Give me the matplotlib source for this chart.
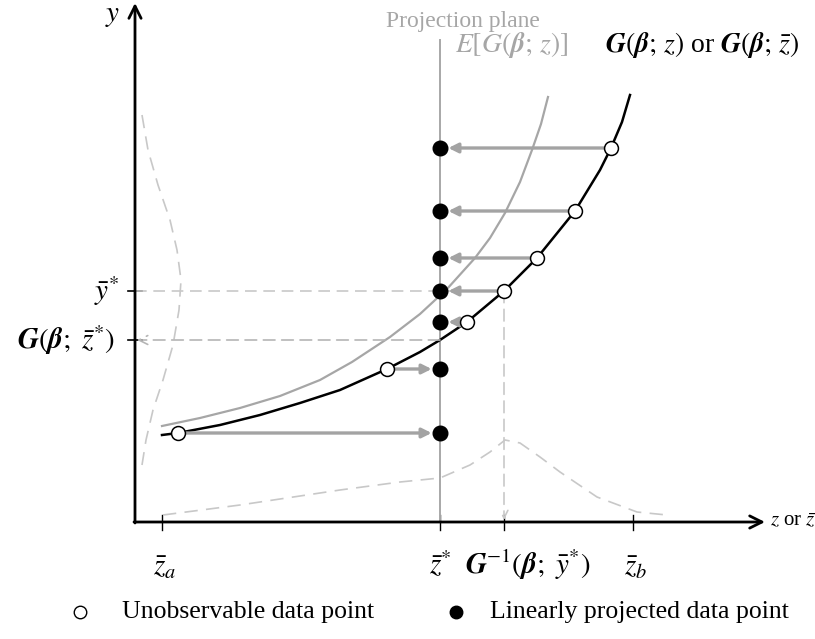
import matplotlib
matplotlib.use("Agg")
import matplotlib.pyplot as plt

plt.rcParams['font.family'] = ['Liberation Serif', 'DejaVu Serif']
plt.rcParams['mathtext.fontset'] = 'stix'

# model curve G(beta; z) and expected curve E[G(beta; z)]
g_z = [27, 43, 85, 125, 165, 205, 252, 285, 305, 332, 369, 402, 440, 465, 476, 487, 495]
g_y = [87, 89, 97, 107, 119, 132, 153, 170, 182, 200, 231, 264, 311, 352, 374, 400, 427]
eg_z = [27, 65, 105, 145, 185, 217, 255, 285, 312, 340, 355, 370, 385, 397, 406, 413]
eg_y = [96, 104, 114, 126, 142, 160, 185, 208, 233, 264, 284, 309, 340, 372, 398, 425]

# unobservable data points (on the curve) and their projections
z_star = 305
obs_z = [43, 252, 332, 369, 402, 440, 476]
obs_y = [89, 153, 200, 231, 264, 311, 374]

# density sketches
dens_y_y = [407, 372, 337, 302, 272, 242, 212, 177, 142, 112, 82, 57]
dens_y_z = [7, 13, 23, 35, 42, 46, 44, 38, 28, 18, 11, 7]
dens_z_z = [28, 105, 165, 205, 265, 305, 335, 355, 370, 385, 405, 425, 462, 502, 532]
dens_z_y = [7, 17, 26, 32, 40, 44, 57, 70, 82, 79, 65, 50, 25, 10, 7]

z_a, z_b, z_inv = 27, 498, 369
y_bar, g_zstar = 231, 182

fig = plt.figure(figsize=(8.15, 6.39), dpi=100)
ax = fig.add_axes([0, 0, 1, 1])
ax.set_xlim(-135, 680)
ax.set_ylim(-117, 522)
ax.axis('off')

dash_c = '#c8c8c8'
arr_c = '#a3a3a3'

# axes with arrows
ax.annotate('', xy=(630, 0), xytext=(-1, 0),
            arrowprops=dict(arrowstyle='->', color='black', lw=2, shrinkA=0, shrinkB=0,
                            mutation_scale=22))
ax.annotate('', xy=(0, 519), xytext=(0, -1),
            arrowprops=dict(arrowstyle='->', color='black', lw=2, shrinkA=0, shrinkB=0,
                            mutation_scale=22))

# ticks
for t in [z_a, z_star, z_inv, z_b]:
    ax.plot([t, t], [-8, 7], color='black', lw=1)
for t in [y_bar, g_zstar]:
    ax.plot([-7, 7], [t, t], color='black', lw=1.2)

# projection plane
ax.plot([z_star, z_star], [0, 482], color='#a8a8a8', lw=1.4)

# density sketches
ax.plot(dens_y_z, dens_y_y, color=dash_c, lw=1.2, dashes=(8, 5))
ax.plot(dens_z_z, dens_z_y, color=dash_c, lw=1.2, dashes=(8, 5))

# dashed guides
ax.plot([0, z_inv], [y_bar, y_bar], color=dash_c, lw=1.2, dashes=(7, 4))
ax.annotate('', xy=(z_inv, 2), xytext=(z_inv, y_bar),
            arrowprops=dict(arrowstyle='->', color=dash_c, lw=1.2, ls=(0, (7, 4)),
                            shrinkA=0, shrinkB=0, mutation_scale=14))
ax.annotate('', xy=(2, g_zstar), xytext=(z_star, g_zstar),
            arrowprops=dict(arrowstyle='->', color='#b5b5b5', lw=1.2, ls=(0, (7, 4)),
                            shrinkA=0, shrinkB=0, mutation_scale=16))

# curves
ax.plot(eg_z, eg_y, color='#a6a6a6', lw=1.6)
ax.plot(g_z, g_y, color='black', lw=1.8)

# projection arrows
for z, y in zip(obs_z, obs_y):
    ax.annotate('', xy=(z_star, y), xytext=(z, y),
                arrowprops=dict(arrowstyle='-|>', color=arr_c, lw=2.4,
                                shrinkA=5, shrinkB=6, mutation_scale=14))

ax.plot([z_star] * len(obs_y), obs_y, 'o', color='black', ms=10.5, zorder=5)
ax.plot(obs_z, obs_y, 'o', mfc='white', mec='black', mew=1.1, ms=10, zorder=5)

# labels
ax.text(-22, 506, r'$y$', fontsize=21, ha='center', va='center')
ax.text(635, 0, r'$z$ or $\bar{z}$', fontsize=15, ha='left', va='center')
ax.text(328, 500, 'Projection plane', fontsize=17, color='#a6a6a6', ha='center', va='center')
ax.text(320, 477, r'$E[G(\boldsymbol{\beta};\,z)]$', fontsize=20, color='#a6a6a6',
        ha='left', va='center')
ax.text(470, 477, r'$\boldsymbol{G}(\boldsymbol{\beta};\,z)$ or $\boldsymbol{G}(\boldsymbol{\beta};\,\bar{z})$',
        fontsize=20, ha='left', va='center')
ax.text(-16, y_bar, r'$\bar{y}^{*}$', fontsize=21, ha='right', va='center')
ax.text(-20, g_zstar, r'$\boldsymbol{G}(\boldsymbol{\beta};\ \bar{z}^{*})$', fontsize=21,
        ha='right', va='center')
ax.text(z_a + 3, -46, r'$\bar{z}_{a}$', fontsize=21, ha='center', va='center')
ax.text(z_star, -43, r'$\bar{z}^{*}$', fontsize=21, ha='center', va='center')
ax.text(330, -43, r'$\boldsymbol{G}^{-1}(\boldsymbol{\beta};\ \bar{y}^{*})$', fontsize=21,
        ha='left', va='center')
ax.text(z_b + 3, -46, r'$\bar{z}_{b}$', fontsize=21, ha='center', va='center')

# legend
ax.plot([-55], [-90], 'o', mfc='white', mec='black', mew=1, ms=9, clip_on=False)
ax.text(-13, -90, 'Unobservable data point', fontsize=18.5, ha='left', va='center')
ax.plot([321], [-90], 'o', color='black', ms=9, clip_on=False)
ax.text(355, -90, 'Linearly projected data point', fontsize=18.5, ha='left', va='center')

fig.savefig('out.png', dpi=100)
